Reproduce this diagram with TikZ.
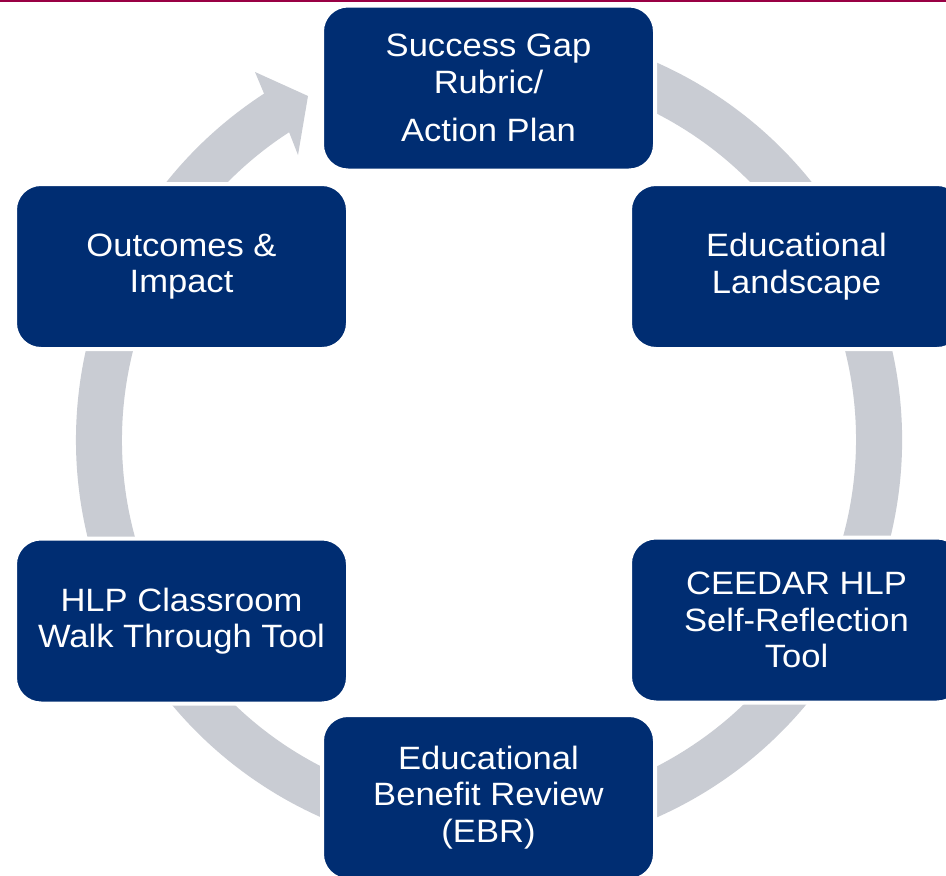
\documentclass[tikz,border=0pt]{standalone}
\usepackage{fontspec}
\setmainfont{Liberation Sans}[FakeStretch=1.07]
\definecolor{navy}{HTML}{002D72}
\definecolor{ringgray}{HTML}{C9CCD3}
\definecolor{maroon}{HTML}{990044}
\begin{document}
\begin{tikzpicture}[x=1pt,y=-1pt,
  stagebox/.style={rectangle, rounded corners=26pt, fill=navy, draw=white, line width=4pt,
    minimum width=333pt, minimum height=165pt, inner sep=0pt, outer sep=0pt,
    text=white, align=center, font=\fontsize{32.3}{36.5}\selectfont}]
\useasboundingbox (0,0) rectangle (946,876);
\clip (0,0) rectangle (946,876);
\fill[white] (0,0) rectangle (946,876);
% top rule
\draw[maroon, line width=2.5pt] (0,1) -- (946,1);
% ring with arrow
\coordinate (c) at (489,440);
\begin{scope}[shift={(c)}]
\fill[ringgray] (-470:413) arc[start angle=-470, end angle=-123, radius=413]
  -- (-234,-368) -- (-181,-344) -- (-191,-285)
  -- (-123:367) arc[start angle=-123, end angle=-470, radius=367] -- cycle;
\end{scope}
% boxes
\node[stagebox] (sg) at (488.5,88) {Success Gap\\Rubric/\\[12pt]Action Plan};
\node[stagebox] (el) at (796.5,266.5) {Educational\\Landscape};
\node[stagebox] (ce) at (796.5,620) {CEEDAR HLP\\Self-Reflection\\Tool};
\node[stagebox] (ebr) at (488.5,797.5) {Educational\\Benefit Review\\(EBR)};
\node[stagebox] (hlp) at (181.5,621) {HLP Classroom\\Walk Through Tool};
\node[stagebox] (oi) at (181.5,266.5) {Outcomes \&\\Impact};
\end{tikzpicture}
\end{document}
